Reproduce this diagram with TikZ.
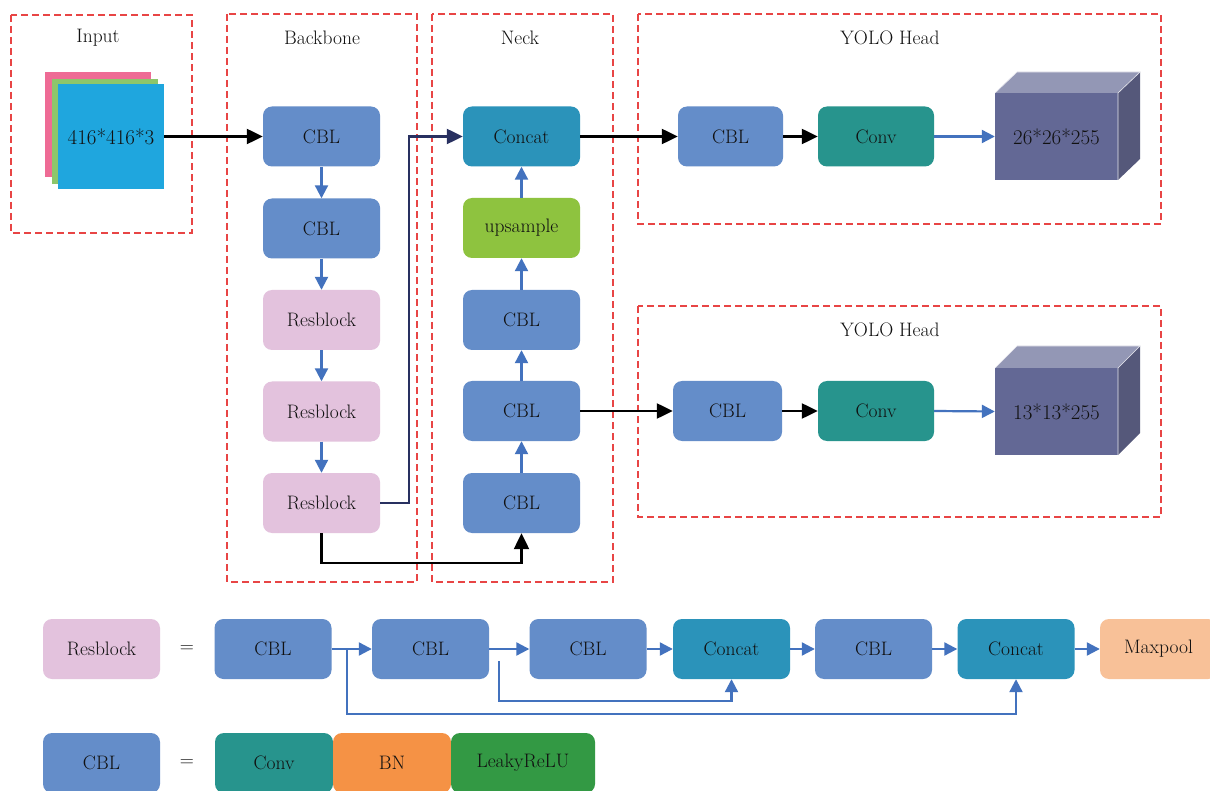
\documentclass[tikz,border=0pt]{standalone}
\usepackage{fontspec}
\usetikzlibrary{arrows.meta}
\definecolor{cblc}{HTML}{648DC9}
\definecolor{resc}{HTML}{E3C2DD}
\definecolor{catc}{HTML}{2B93BA}
\definecolor{upc}{HTML}{8EC33F}
\definecolor{convc}{HTML}{27948D}
\definecolor{bnc}{HTML}{F59245}
\definecolor{lrc}{HTML}{339944}
\definecolor{mpc}{HTML}{F8C198}
\definecolor{cubef}{HTML}{636895}
\definecolor{cubet}{HTML}{9397B5}
\definecolor{cubes}{HTML}{55587A}
\definecolor{inpk}{HTML}{EE6B95}
\definecolor{ingr}{HTML}{8DC66B}
\definecolor{inbl}{HTML}{1FA6DE}
\definecolor{arrb}{HTML}{4372BE}
\definecolor{navy}{HTML}{283060}
\definecolor{dashred}{HTML}{E84545}
\definecolor{txt}{HTML}{111111}
\begin{document}
\begin{tikzpicture}[x=1pt,y=-1pt,font=\fontsize{19.5}{22}\selectfont,
  blk/.style={rounded corners=9pt,minimum width=117pt,minimum height=60pt,inner sep=0pt,text=txt},
  region/.style={draw=dashred,line width=1.2pt,dash pattern=on 7pt off 4pt},
  title/.style={text=txt},
  num/.style={font=\fontsize{21}{24}\selectfont},
  karrow/.style={-{Triangle[length=16pt,width=15pt]},line width=2.3pt,draw=black},
  narrow/.style={-{Triangle[length=16pt,width=15pt]},line width=2.3pt,draw=navy},
  barrow/.style={-{Triangle[length=13pt,width=13pt]},line width=2.2pt,draw=arrb},
  square/.style={minimum width=106pt,minimum height=105pt,inner sep=0pt}]
\useasboundingbox (0,0) rectangle (1210,791);
\fill[white] (0,0) rectangle (1210,791);
% regions
\draw[region] (11,15) rectangle (192,233);
\draw[region] (227,14) rectangle (417,582);
\draw[region] (432,14) rectangle (613,582);
\draw[region] (638,14) rectangle (1161,224);
\draw[region] (638,306) rectangle (1161,517);
\node[title] (tin) at (98,38) {Input};
\node[title] (tbb) at (322,38) {Backbone};
\node[title] (tnk) at (520,38) {Neck};
\node[title] (th1) at (890,38) {YOLO Head};
\node[title] (th2) at (890,330) {YOLO Head};
% input
\node[square,fill=inpk] (sq1) at (97.5,124.5) {};
\node[square,fill=ingr] (sq2) at (104.5,131.5) {};
\node[square,fill=inbl,text=txt,num] (inp) at (111,136.5) {416*416*3};
% backbone
\node[blk,fill=cblc] (b1) at (321.5,136.5) {CBL};
\node[blk,fill=cblc] (b2) at (321.5,228.5) {CBL};
\node[blk,fill=resc] (b3) at (321.5,320) {Resblock};
\node[blk,fill=resc] (b4) at (321.5,411.5) {Resblock};
\node[blk,fill=resc] (b5) at (321.5,503) {Resblock};
% neck
\node[blk,fill=catc] (n1) at (521.5,136.5) {Concat};
\node[blk,fill=upc] (n2) at (521.5,228) {upsample};
\node[blk,fill=cblc] (n3) at (521.5,320) {CBL};
\node[blk,fill=cblc] (n4) at (521.5,411) {CBL};
\node[blk,fill=cblc] (n5) at (521.5,503) {CBL};
% heads
\node[blk,fill=cblc,minimum width=105pt] (h1) at (730.5,136.5) {CBL};
\node[blk,fill=convc,minimum width=116pt] (c1) at (876,136.5) {Conv};
\fill[cubet] (995,93) -- (1017,72) -- (1140,72) -- (1118,93) -- cycle;
\fill[cubes] (1118,93) -- (1140,72) -- (1140,159) -- (1118,180) -- cycle;
\node[fill=cubef,minimum width=123pt,minimum height=87pt,inner sep=0pt,text=txt,num] (o1) at (1056.5,136.5) {26*26*255};
\draw[white!85!cubef,line width=0.6pt] (995,93) -- (1017,72) -- (1140,72) -- (1118,93) (1118,93) -- (1118,180);
\node[blk,fill=cblc,minimum width=109pt] (h2) at (727.5,411) {CBL};
\node[blk,fill=convc,minimum width=116pt] (c2) at (876,411) {Conv};
\fill[cubet] (995,368) -- (1017,346) -- (1140,346) -- (1118,368) -- cycle;
\fill[cubes] (1118,368) -- (1140,346) -- (1140,433) -- (1118,455) -- cycle;
\node[fill=cubef,minimum width=123pt,minimum height=87pt,inner sep=0pt,text=txt,num] (o2) at (1056.5,411.5) {13*13*255};
\draw[white!85!cubef,line width=0.6pt] (995,368) -- (1017,346) -- (1140,346) -- (1118,368) (1118,368) -- (1118,455);
% connectors main
\draw[karrow] (inp.east) -- (b1.west);
\draw[barrow] (b1) -- (b2);
\draw[barrow] (b2) -- (b3);
\draw[barrow] (b3) -- (b4);
\draw[barrow] (b4) -- (b5);
\draw[narrow] (b5.east) -- ++(29,0) |- (n1.west);
\draw[karrow] (b5.south) -- ++(0,30) -| (n5.south);
\draw[barrow] (n5) -- (n4);
\draw[barrow] (n4) -- (n3);
\draw[barrow] (n3) -- (n2);
\draw[barrow] (n2) -- (n1);
\draw[karrow] (n1.east) -- (h1.west);
\draw[karrow] (h1.east) -- (c1.west);
\draw[barrow] (c1.east) -- (o1.west);
\draw[karrow] (n4.east) -- (h2.west);
\draw[karrow] (h2.east) -- (c2.west);
\draw[barrow] (c2.east) -- (o2.west);
% legend row 1
\node[blk,fill=resc] (r0) at (101.5,649) {Resblock};
\node[text=txt] (eq1) at (187,649) {=};
\node[blk,fill=cblc] (l1) at (273,649) {CBL};
\node[blk,fill=cblc] (l2) at (430.5,649) {CBL};
\node[blk,fill=cblc] (l3) at (588,649) {CBL};
\node[blk,fill=catc] (l4) at (731.5,649) {Concat};
\node[blk,fill=cblc] (l5) at (873.5,649) {CBL};
\node[blk,fill=catc] (l6) at (1016,649) {Concat};
\node[blk,fill=mpc] (l7) at (1158.5,649) {Maxpool};
\draw[barrow] (l1) -- (l2);
\draw[barrow] (l2) -- (l3);
\draw[barrow] (l3) -- (l4);
\draw[barrow] (l4) -- (l5);
\draw[barrow] (l5) -- (l6);
\draw[barrow] (l6) -- (l7);
\draw[barrow] ([xshift=15pt]l1.east) -- ++(0,65) -| (l6.south);
\draw[barrow] ([xshift=10pt,yshift=-12pt]l2.east) -- ++(0,40) -| (l4.south);
% legend row 2
\node[blk,fill=cblc] (r1) at (101.5,763) {CBL};
\node[text=txt] (eq2) at (187,763) {=};
\node[blk,fill=convc,minimum width=118pt] (g1) at (274,763) {Conv};
\node[blk,fill=bnc,minimum width=118pt] (g2) at (392,763) {BN};
\node[blk,fill=lrc,minimum width=144pt] (g3) at (523,763) {LeakyReLU};
\end{tikzpicture}
\end{document}
